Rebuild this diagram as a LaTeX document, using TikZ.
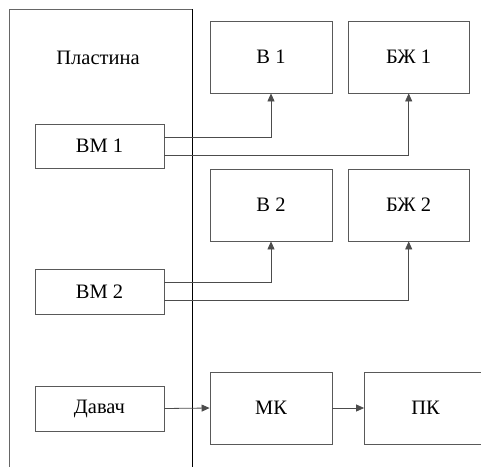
\documentclass[tikz,border=0pt]{standalone}
\usepackage{fontspec}
\setmainfont{Liberation Serif}
\newfontfamily\tnr{Liberation Serif}
\usetikzlibrary{arrows.meta}
\tikzset{
  txt/.style={font=\tnr\fontsize{20.5}{24}\selectfont},
  blk/.style={txt, draw=black!65, line width=0.8pt, fill=white, inner sep=0pt},
  conn/.style={draw=black!70, line width=0.8pt},
  arr/.style={conn, -{Triangle[length=8pt,width=7pt]}}
}
\begin{document}
\begin{tikzpicture}[x=1pt,y=-1pt]
\useasboundingbox (0,0) rectangle (481,466);
\clip (0,0) rectangle (481,466);
% Plate
\draw[draw=black!60, line width=0.8pt] (9,472) -- (9,9) -- (192,9);
\draw[draw=black, line width=0.8pt] (192,9) -- (192,472);
\node[txt] (plate) at (98,58) {Пластина};
% blocks
\node[blk, minimum width=129pt, minimum height=44pt] (bm1) at (99.5,146) {ВМ 1};
\node[blk, minimum width=129pt, minimum height=45pt] (bm2) at (99.5,291.5) {ВМ 2};
\node[blk, minimum width=129pt, minimum height=45pt] (dav) at (99.5,408.5) {Давач};
\node[blk, minimum width=122pt, minimum height=72pt] (b1) at (271,57) {В 1};
\node[blk, minimum width=121pt, minimum height=72pt] (bz1) at (408.7,57) {БЖ 1};
\node[blk, minimum width=122pt, minimum height=72pt] (b2) at (271,205) {В 2};
\node[blk, minimum width=121pt, minimum height=72pt] (bz2) at (408.7,205) {БЖ 2};
\node[blk, minimum width=122pt, minimum height=72pt] (mk) at (271,408) {МК};
\node[blk, minimum width=122pt, minimum height=72pt] (pk) at (425.5,408) {ПК};
% connectors
\draw[arr] ([yshift=9pt]bm1.east) -| (b1.south);
\draw[arr] ([yshift=-9pt]bm1.east) -| (bz1.south);
\draw[arr] ([yshift=9.5pt]bm2.east) -| (b2.south);
\draw[arr] ([yshift=-8.5pt]bm2.east) -| (bz2.south);
\draw[arr] (dav.east) -- (mk.west);
\draw[arr] (mk.east) -- (pk.west);
\end{tikzpicture}
\end{document}
